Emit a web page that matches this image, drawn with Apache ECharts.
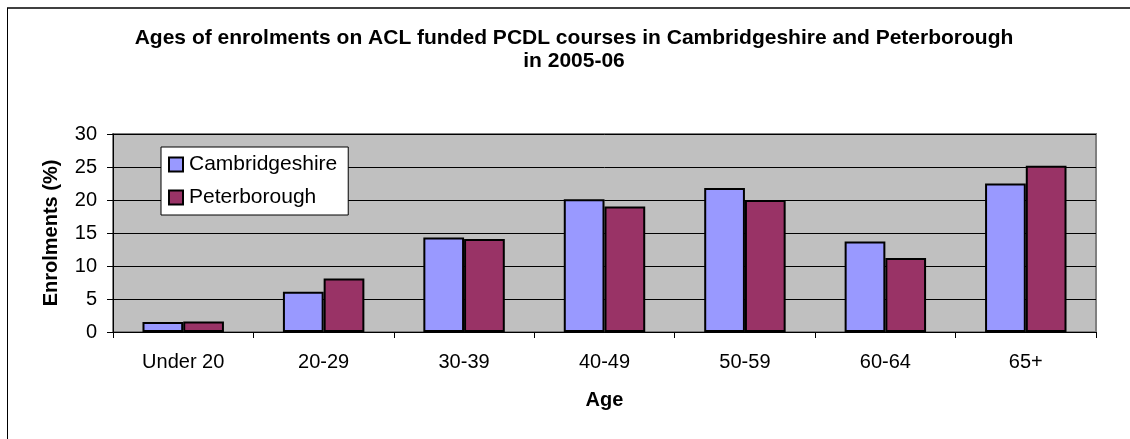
<!DOCTYPE html>
<html>
<head>
<meta charset="utf-8">
<script src="https://cdn.jsdelivr.net/npm/echarts@6/dist/echarts.min.js"></script>
<style>
  html, body { margin: 0; padding: 0; background: #fff; }
  #chart { width: 1130px; height: 439px; }
</style>
</head>
<body>
<div id="chart"></div>
<script>
// 数据
const ageGroups = ['Under 20', '20-29', '30-39', '40-49', '50-59', '60-64', '65+']
const cambridgeshire = [1.5, 6.1, 14.3, 20.1, 21.8, 13.7, 22.5]
const peterborough = [1.6, 8.1, 14.1, 19.0, 20.0, 11.2, 25.2]
const yTicks = [0, 5, 10, 15, 20, 25, 30]

const font = 'Liberation Sans, Arial, sans-serif'

const chart = echarts.init(document.getElementById('chart'))

const option = {
  animation: false,
  backgroundColor: '#fff',
  title: {
    text: 'Ages of enrolments on ACL funded PCDL courses in Cambridgeshire and Peterborough\nin 2005-06',
    left: 569,
    top: 22,
    textAlign: 'center',
    textStyle: {
      fontFamily: font,
      fontSize: 21,
      fontWeight: 'bold',
      color: '#000',
      lineHeight: 23
    }
  },
  legend: {
    orient: 'vertical',
    left: 161,
    top: 147,
    padding: [7, 11, 7, 7],
    itemGap: 12,
    itemWidth: 14,
    itemHeight: 14,
    backgroundColor: '#fff',
    borderColor: '#000',
    borderWidth: 1,
    borderRadius: 0,
    icon: 'rect',
    textStyle: { fontFamily: font, fontSize: 21, color: '#000', padding: [0, 0, 0, 1] },
    data: ['Cambridgeshire', 'Peterborough']
  },
  grid: {
    left: 113,
    right: 34,
    top: 134,
    bottom: 107,
    show: true,
    backgroundColor: '#C0C0C0',
    borderColor: '#808080',
    borderWidth: 2
  },
  xAxis: {
    type: 'category',
    data: ageGroups,
    name: 'Age',
    nameLocation: 'middle',
    nameGap: 58,
    nameTextStyle: { fontFamily: font, fontSize: 20, fontWeight: 'bold', color: '#000' },
    axisLine: { lineStyle: { color: '#000', width: 1 } },
    axisTick: { show: true, length: 6, lineStyle: { color: '#000' } },
    axisLabel: { fontFamily: font, fontSize: 20, color: '#000', margin: 20 }
  },
  yAxis: {
    type: 'value',
    min: 0,
    max: yTicks[yTicks.length - 1],
    interval: yTicks[1] - yTicks[0],
    name: 'Enrolments (%)',
    nameLocation: 'middle',
    nameGap: 52,
    nameTextStyle: { fontFamily: font, fontSize: 20, fontWeight: 'bold', color: '#000' },
    axisLine: { show: true, lineStyle: { color: '#000', width: 1 } },
    axisTick: { show: true, length: 6, lineStyle: { color: '#000' } },
    axisLabel: { fontFamily: font, fontSize: 20, color: '#000', margin: 16 },
    splitLine: { show: true, lineStyle: { color: '#000', width: 1 } }
  },
  series: [
    {
      name: 'Cambridgeshire',
      type: 'bar',
      data: cambridgeshire,
      barGap: '0%',
      barCategoryGap: '42%',
      itemStyle: { color: '#9999FF', borderColor: '#000', borderWidth: 2 }
    },
    {
      name: 'Peterborough',
      type: 'bar',
      data: peterborough,
      itemStyle: { color: '#993366', borderColor: '#000', borderWidth: 2 }
    }
  ],
  graphic: [
    // 外框
    { type: 'line', shape: { x1: 7, y1: 8, x2: 1130, y2: 8 }, style: { stroke: '#404040', lineWidth: 2 } },
    { type: 'line', shape: { x1: 7.5, y1: 8, x2: 7.5, y2: 439 }, style: { stroke: '#000', lineWidth: 1 } }
  ]
}

chart.setOption(option)
</script>
</body>
</html>
